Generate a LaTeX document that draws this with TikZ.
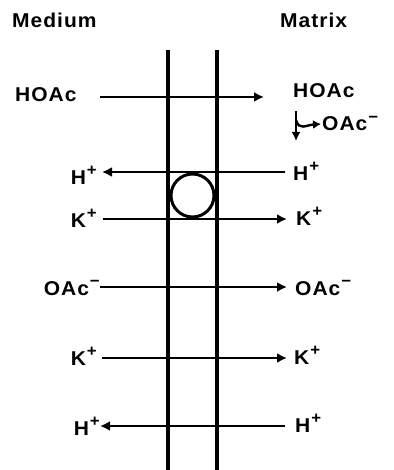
\documentclass[tikz,border=0pt]{standalone}
\usepackage{fontspec}
\setmainfont{Liberation Sans}[FakeStretch=1.05, LetterSpace=5]
\usetikzlibrary{arrows.meta}
\tikzset{
  lbl/.style={inner sep=0pt, anchor=base west, font=\fontsize{20}{22}\selectfont\bfseries},
  lblr/.style={lbl, anchor=base east},
  flow/.style={line width=2.4pt, -{Latex[length=10pt,width=10pt]}},
  mem/.style={line width=3.4pt},
}
\newcommand{\supp}[1]{\hspace{1pt}\raisebox{0.42em}{\fontsize{16}{16}\selectfont #1}}
\begin{document}
\begin{tikzpicture}[x=1pt,y=-1pt]
\useasboundingbox (0,0) rectangle (393,470);
% headings
\node[lbl] (med) at (12,28) {Medium};
\node[lbl] (mat) at (280,28) {Matrix};
% membrane
\coordinate (lt) at (168,50); \coordinate (lb) at (168,470);
\coordinate (rt) at (217,50); \coordinate (rb) at (217,470);
\draw[mem] (lt) -- (lb);
\draw[mem] (rt) -- (rb);
% carrier
\node[draw, circle, line width=3pt, minimum size=43pt, inner sep=0pt] (car) at (192.5,195.5) {};
% labels
\node[lbl] (hoacL) at (15,102) {HOAc};
\node[lbl] (hoacR) at (293,98) {HOAc};
\node[lbl] (oacB) at (322,131) {OAc\supp{−}};
\node[lblr] (h1L) at (97,184) {H\supp{+}};
\node[lbl] (h1R) at (293,180) {H\supp{+}};
\node[lblr] (k1L) at (97,227) {K\supp{+}};
\node[lbl] (k1R) at (296,225) {K\supp{+}};
\node[lblr] (oL) at (100,295) {OAc\supp{−}};
\node[lbl] (oR) at (295,295) {OAc\supp{−}};
\node[lblr] (k2L) at (97,365) {K\supp{+}};
\node[lbl] (k2R) at (294,364) {K\supp{+}};
\node[lblr] (h2L) at (100,435) {H\supp{+}};
\node[lbl] (h2R) at (295,432) {H\supp{+}};
% arrow ends
\coordinate (a1s) at (100,97);  \coordinate (a1e) at (264,97);
\coordinate (a2s) at (285,172); \coordinate (a2e) at (102,172);
\coordinate (a3s) at (103,219); \coordinate (a3e) at (287,219);
\coordinate (a4s) at (100,287); \coordinate (a4e) at (287,287);
\coordinate (a5s) at (102,358); \coordinate (a5e) at (287,358);
\coordinate (a6s) at (285,426); \coordinate (a6e) at (100,426);
\draw[flow] (a1s) -- (a1e);
\draw[flow] (a2s) -- (a2e);
\draw[flow] (a3s) -- (a3e);
\draw[flow] (a4s) -- (a4e);
\draw[flow] (a5s) -- (a5e);
\draw[flow] (a6s) -- (a6e);
% dissociation
\coordinate (dt) at (296,111); \coordinate (db) at (296,141);
\coordinate (dm) at (296,120); \coordinate (de) at (321,124);
\draw[line width=2.6pt, -{Latex[length=9pt,width=9pt]}] (dt) -- (db);
\draw[line width=2.4pt, -{Latex[length=8pt,width=9pt]}] (dm) .. controls (299,131) and (306,125) .. (de);
\end{tikzpicture}
\end{document}
